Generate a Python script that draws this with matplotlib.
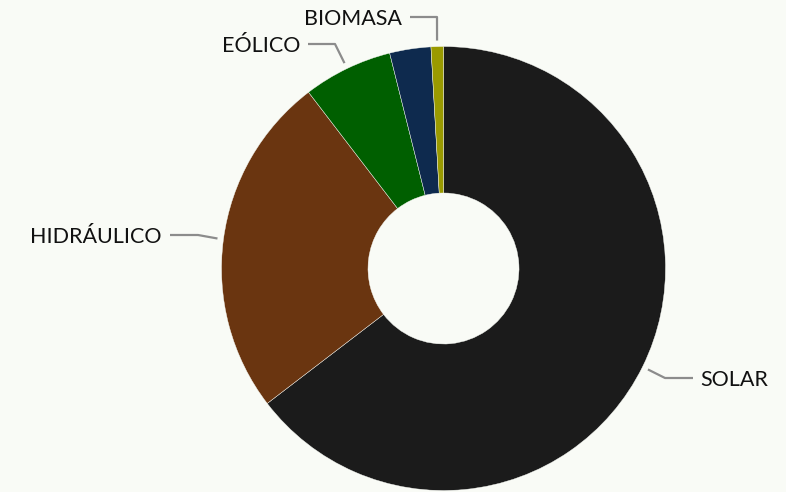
import numpy as np
import matplotlib.pyplot as plt

labels = ['SOLAR', 'HIDRÁULICO', 'EÓLICO', '', 'BIOMASA']
values = [64.6, 25.0, 6.5, 3.0, 0.9]
colors = ['#1b1b1b', '#6a3510', '#005f00', '#0e2a4e', '#9a9a00']
bg = '#f9fbf6'

# label layout: elbow point and text anchor (pixel units, y from top)
elbows = {'SOLAR': (665, 378), 'HIDRÁULICO': (198, 235), 'EÓLICO': (335, 44), 'BIOMASA': (437, 17)}
text_x = {'SOLAR': 700, 'HIDRÁULICO': 162, 'EÓLICO': 300, 'BIOMASA': 402}

W, H = 786, 492
fig = plt.figure(figsize=(W / 100, H / 100), dpi=100, facecolor=bg)
ax = fig.add_axes([0, 0, 1, 1])
ax.set_facecolor(bg)

cx, cy = 443.5, H - 268.5
R, r_in = 222, 75.5
wedges, _ = ax.pie(values, colors=colors, startangle=90, counterclock=False,
                   center=(cx, cy), radius=R, frame=True,
                   wedgeprops=dict(width=R - r_in, edgecolor=bg, linewidth=0.3))
ax.set_xlim(0, W)
ax.set_ylim(0, H)
ax.axis('off')

for w, lab in zip(wedges, labels):
    if not lab:
        continue
    ang = np.deg2rad((w.theta1 + w.theta2) / 2)
    px, py = cx + 228 * np.cos(ang), cy + 228 * np.sin(ang)
    ex, ey = elbows[lab]
    ey = H - ey
    tx = text_x[lab]
    right = tx > ex
    hx = tx - 7 if right else tx + 8
    ax.plot([px, ex, hx], [py, ey, ey], color='#8c8c8c', lw=1.6, solid_capstyle='butt')
    ax.text(tx, ey - 2, lab, ha='left' if right else 'right', va='center',
            fontsize=15.5, family='Lato', color='#111111')

fig.savefig('out.png', dpi=100, facecolor=bg)
